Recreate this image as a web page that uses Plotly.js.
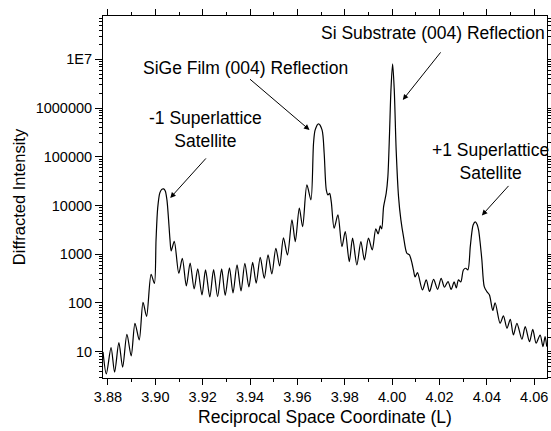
<!DOCTYPE html>
<html>
<head>
<meta charset="utf-8">
<script src="https://cdn.plot.ly/plotly-3.0.1.min.js"></script>
<style>html,body{margin:0;padding:0;background:#fff;}#chart{width:551px;height:431px;}</style>
</head>
<body>
<div id="chart"></div>
<script>
// Reciprocal space coordinate (L)
const coordL = [
3.8779,3.8793,3.8813,3.8828,3.8846,3.8862,3.8880,3.8898,3.8914,3.8932,
3.8948,3.8963,3.8982,3.8996,3.9003,3.9010,3.9019,3.9027,3.9035,3.9042,
3.9049,3.9056,3.9062,3.9067,3.9080,3.9099,3.9114,3.9131,3.9147,3.9164,
3.9179,3.9197,3.9212,3.9230,3.9246,3.9263,3.9280,3.9295,3.9313,3.9328,
3.9345,3.9362,3.9378,3.9395,3.9411,3.9426,3.9443,3.9460,3.9476,3.9492,
3.9509,3.9525,3.9541,3.9558,3.9577,3.9591,3.9608,3.9622,3.9640,3.9657,
3.9668,3.9675,3.9689,3.9704,3.9713,3.9722,3.9729,3.9736,3.9743,3.9755,
3.9771,3.9788,3.9802,3.9819,3.9833,3.9851,3.9868,3.9883,3.9900,3.9916,
3.9931,3.9941,3.9950,3.9956,3.9964,3.9975,3.9982,3.9989,3.9995,4.0002,
4.0009,4.0017,4.0027,4.0037,4.0048,4.0062,4.0073,4.0084,4.0090,4.0097,
4.0107,4.0128,4.0144,4.0158,4.0175,4.0192,4.0207,4.0221,4.0236,4.0249,
4.0262,4.0271,4.0280,4.0290,4.0301,4.0311,4.0320,4.0330,4.0337,4.0342,
4.0351,4.0359,4.0365,4.0372,4.0379,4.0389,4.0400,4.0411,4.0425,4.0435,
4.0456,4.0470,4.0485,4.0499,4.0512,4.0527,4.0548,4.0562,4.0580,4.0594,
4.0608,4.0625,4.0637,4.0646,4.0653
];
// Diffracted intensity
const intensity = [
9.9,3.5,12.1,3.8,15.3,4.8,22.8,8.2,38.3,17.4,
103,53.3,388,251,1968,8933,18150,21430,21930,19950,
13030,5060,1968,1170,1832,407,820,223,662,194,
499,146,476,133,483,135,499,143,528,160,
603,176,653,213,679,254,867,321,968,394,
1327,575,2163,968,5060,1815,8810,3690,26490,13030,
190100,356500,474300,356500,118600,20890,16530,17700,11860,3420,
6410,1432,2911,705,2133,603,1815,764,2133,1225,
3311,2612,3810,3311,9480,17900,39170,305500,2366000,8090000,
2366000,138700,15240,5060,2296,1050,968,653,476,342,
419,185,297,172,304,191,321,210,276,189,
270,203,297,270,476,516,476,1432,2911,4000,
4605,4093,3155,1683,764,216,171,146,70.2,101,
38.3,54.1,30.2,46.2,22.0,38.3,18.0,32.6,16.0,28.8,
14.9,22.0,12.7,20.3,12.7
];
const yTickVals = [10,100,1000,10000,100000,1000000,10000000];
const yTickText = ['10','100','1000','10000','100000','1000000','1E7'];
const labelTexts = ['Si Substrate (004) Reflection','SiGe Film (004) Reflection','-1 Superlattice<br>Satellite','+1 Superlattice<br>Satellite'];

const minorY = [];
for (let e = 0; e <= 7; e++) { for (let d = 2; d <= 9; d++) { minorY.push(d * Math.pow(10, e)); } }

const font = 'Liberation Sans, Arial, sans-serif';
const trace = {
  x: coordL, y: intensity, type: 'scatter', mode: 'lines',
  line: {color: '#000', width: 1.2, shape: 'spline', smoothing: 0.8},
  hoverinfo: 'skip'
};
// empty trace that only anchors the minor-tick overlay axis
const minorAnchor = {x: [null], y: [null], yaxis: 'y2', type: 'scatter', mode: 'lines', hoverinfo: 'skip', showlegend: false};

const lbl = (t, x, y) => ({text: t, x: x, y: y, xref: 'x', yref: 'y', showarrow: false,
  font: {family: font, size: 17.5, color: '#000'}, xanchor: 'center', yanchor: 'middle'});
const arr = (x, y, ax, ay) => ({text: '', x: x, y: y, xref: 'x', yref: 'y', showarrow: true,
  ax: ax, ay: ay, arrowhead: 2, arrowsize: 1.1, arrowwidth: 1, arrowcolor: '#000', standoff: 0});

const layout = {
  width: 551, height: 431,
  margin: {l: 103, r: 4, t: 16, b: 53},
  paper_bgcolor: '#fff', plot_bgcolor: '#fff',
  showlegend: false,
  font: {family: font, color: '#000'},
  xaxis: {
    range: [3.8779, 4.0654], tick0: 3.88, dtick: 0.02, tickformat: '.2f',
    ticks: 'outside', ticklen: 6, tickwidth: 1, tickcolor: '#000',
    showline: true, linecolor: '#000', linewidth: 1, mirror: 'ticks',
    showgrid: false, zeroline: false,
    tickfont: {family: font, size: 14.5, color: '#000'},
    minor: {dtick: 0.01, ticks: 'outside', ticklen: 3, tickcolor: '#000', showgrid: false},
    title: {text: 'Reciprocal Space Coordinate (L)', font: {family: font, size: 17.5, color: '#000'}, standoff: 6}
  },
  yaxis: {
    type: 'log', range: [0.46, 7.89],
    tickmode: 'array', tickvals: yTickVals, ticktext: yTickText,
    ticks: 'outside', ticklen: 7, tickwidth: 1, tickcolor: '#000',
    showline: true, linecolor: '#000', linewidth: 1, mirror: 'ticks',
    showgrid: false, zeroline: false,
    tickfont: {family: font, size: 14.5, color: '#000'},
    title: {text: 'Diffracted Intensity', font: {family: font, size: 16.5, color: '#000'}, standoff: 5}
  },
  yaxis2: {
    type: 'log', range: [0.46, 7.89], overlaying: 'y', side: 'left',
    tickmode: 'array', tickvals: minorY, showticklabels: false,
    ticks: 'outside', ticklen: 3, tickwidth: 1, tickcolor: '#000',
    showline: true, linecolor: '#000', linewidth: 1, mirror: 'ticks',
    showgrid: false, zeroline: false
  },
  annotations: [
    lbl(labelTexts[0], 4.0173, 7.538),
    lbl(labelTexts[1], 3.9380, 6.825),
    lbl(labelTexts[2], 3.9211, 5.552),
    lbl(labelTexts[3], 4.0414, 4.895),
    arr(3.9063, 4.156, 37, -41),
    arr(3.9651, 5.552, -61, -52),
    arr(4.0045, 6.168, 39, -49),
    arr(4.0379, 3.797, 28, -31)
  ]
};
Plotly.newPlot('chart', [trace, minorAnchor], layout, {staticPlot: true, displayModeBar: false});
</script>
</body>
</html>
